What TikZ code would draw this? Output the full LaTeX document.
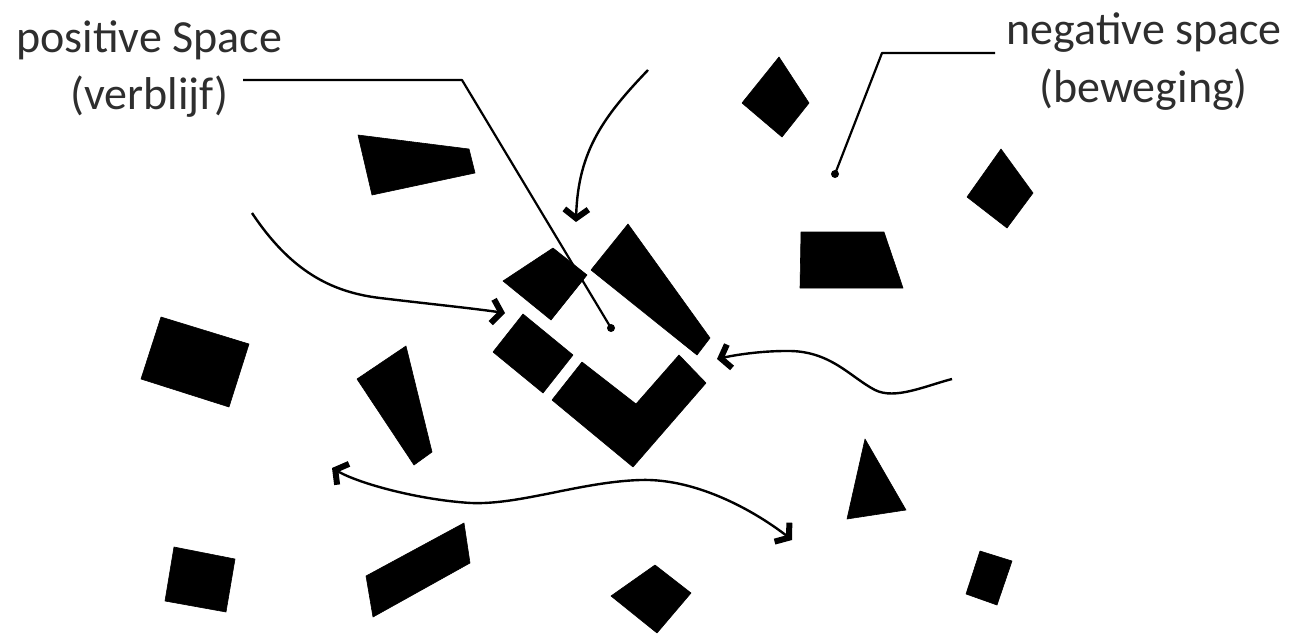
\documentclass[tikz,border=0pt]{standalone}
\usepackage{fontspec}
\setmainfont{Carlito}
\usetikzlibrary{arrows.meta}
\begin{document}
\begin{tikzpicture}[x=1pt,y=-1pt,
  blk/.style={fill=black,draw=black,line width=0.6pt,line join=round},
  lbl/.style={inner sep=0pt,text=black!82,font=\fontsize{46}{56}\selectfont},
  lead/.style={line width=2.2pt,line join=round},
  dotnode/.style={circle,fill=black,inner sep=0pt,minimum size=8pt},
  barb/.tip={Straight Barb[length=9pt,width=24pt,line width=6pt]},
  flow/.style={line width=2.4pt,-barb},
  flowboth/.style={line width=2.4pt,barb-barb}]
\useasboundingbox (0,0) rectangle (1293,634);
\fill[white] (0,0) rectangle (1293,634);

% labels
\node[lbl,anchor=base west] (pos1) at (16,53) {positive Space};
\node[lbl,anchor=base west] (pos2) at (70,110) {(verblijf)};
\node[lbl,anchor=base east] (neg1) at (1282,45) {negative space};
\node[lbl,anchor=base east] (neg2) at (1248,102) {(beweging)};

% black shapes
\fill[blk] (358,135) -- (469,149) -- (475,173) -- (372,195) -- cycle;
\fill[blk] (779,57) -- (809,103) -- (782,137) -- (742,103) -- cycle;
\fill[blk] (1001,149) -- (1033,193) -- (1007,228) -- (967,197) -- cycle;
\fill[blk] (801,232) -- (884,232) -- (903,288) -- (800,288) -- cycle;
\fill[blk] (161,317) -- (249,344) -- (229,407) -- (141,379) -- cycle;
\fill[blk] (406,346) -- (357,379) -- (414,465) -- (432,452) -- cycle;
\fill[blk] (174,547) -- (235,559) -- (226,612) -- (165,601) -- cycle;
\fill[blk] (366,576) -- (464,523) -- (470,563) -- (373,617) -- cycle;
\fill[blk] (655,565) -- (691,593) -- (657,633) -- (611,596) -- cycle;
\fill[blk] (865,439) -- (906,510) -- (847,519) -- cycle;
\fill[blk] (980,551) -- (1012,561) -- (997,605) -- (966,594) -- cycle;
% centre cluster
\fill[blk] (503,281) -- (553,248) -- (587,275) -- (551,320) -- cycle;
\fill[blk] (628,224) -- (591,270) -- (697,355) -- (710,338) -- cycle;
\fill[blk] (493,352) -- (523,314) -- (573,355) -- (543,393) -- cycle;
\fill[blk] (552,400) -- (582,362) -- (636,404) -- (679,355) -- (706,383) -- (633,467) -- cycle;

% leaders
\node[dotnode] (pdot) at (611,328) {};
\node[dotnode] (ndot) at (835,174) {};
\coordinate (pl) at (243,80);
\coordinate (pk) at (462,80);
\coordinate (nl) at (995,53);
\coordinate (nk) at (882,53);
\draw[lead] (pl) -- (pk) -- (pdot.center);
\draw[lead] (nl) -- (nk) -- (ndot.center);

% flows
\coordinate (t0) at (648,70);
\coordinate (t1) at (576,222);
\draw[flow] (t0) .. controls (605,115) and (578,150) .. (t1);
\coordinate (l0) at (252,213);
\coordinate (l1) at (505,313);
\draw[flow] (l0) .. controls (290,270) and (330,292) .. (380,298)
  .. controls (430,304) and (470,308) .. (l1);
\coordinate (r0) at (952,379);
\coordinate (r1) at (717,359);
\draw[flow] (r0) .. controls (925,386) and (895,400) .. (875,390)
  .. controls (850,377) and (830,350) .. (786,351)
  .. controls (760,351) and (735,355) .. (r1);
\coordinate (b0) at (332,468);
\coordinate (b1) at (792,540);
\draw[flowboth] (b0) .. controls (360,484) and (420,500) .. (471,503)
  .. controls (520,505) and (580,482) .. (640,480)
  .. controls (700,478) and (760,515) .. (b1);
\end{tikzpicture}
\end{document}
